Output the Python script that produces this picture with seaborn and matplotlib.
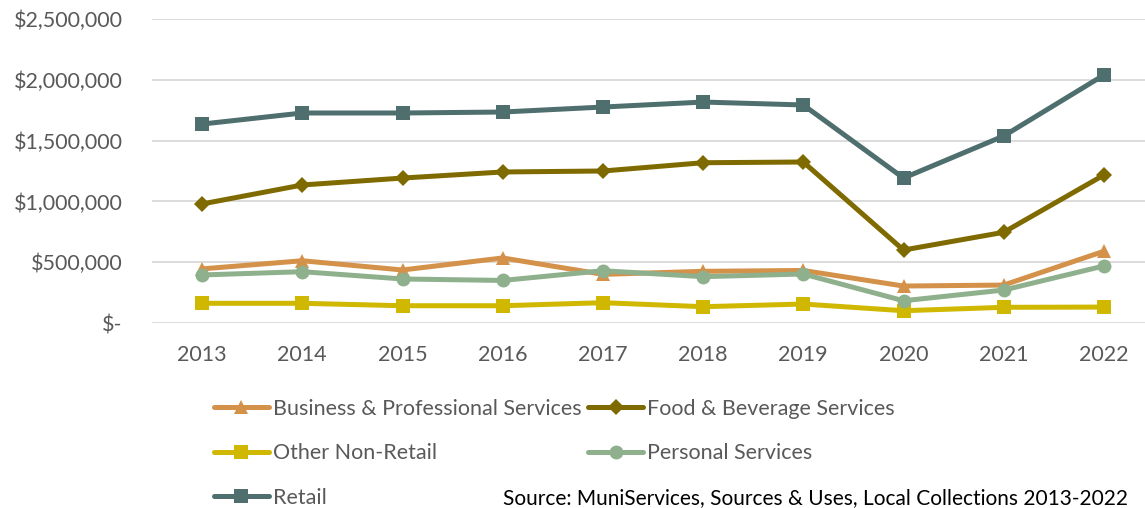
import matplotlib
matplotlib.use("Agg")
import matplotlib.pyplot as plt
import seaborn as sns
import pandas as pd
from matplotlib.ticker import FuncFormatter

years = ["2013", "2014", "2015", "2016", "2017", "2018", "2019", "2020", "2021", "2022"]
business = [445000, 512000, 436000, 535000, 400000, 425000, 432000, 304000, 312000, 590000]
food = [979000, 1135000, 1192000, 1242000, 1250000, 1318000, 1324000, 600000, 746000, 1217000]
other = [162000, 162000, 142000, 142000, 167000, 134000, 156000, 101000, 129000, 131000]
personal = [395000, 422000, 362000, 350000, 430000, 381000, 403000, 183000, 271000, 469000]
retail = [1636000, 1727000, 1727000, 1735000, 1776000, 1817000, 1793000, 1192000, 1538000, 2039000]

series_names = ["Business & Professional Services", "Food & Beverage Services",
                "Other Non-Retail", "Personal Services", "Retail"]
series_values = [business, food, other, personal, retail]
colors = ["#D4914A", "#7F6A00", "#D0B800", "#8FB08C", "#4F6E6E"]
markers = ["^", "D", "s", "o", "s"]
marker_sizes = [10, 8, 9.5, 10, 10]
source_text = "Source: MuniServices, Sources & Uses, Local Collections 2013-2022"

rows = []
for name, vals in zip(series_names, series_values):
    for i, (y, v) in enumerate(zip(years, vals)):
        rows.append({"idx": i, "year": y, "series": name, "value": v})
df = pd.DataFrame(rows)

sns.set_theme(style="white")
plt.rcParams["font.family"] = ["Lato", "DejaVu Sans"]

fig = plt.figure(figsize=(11.45, 5.08), dpi=100)
W, H = 1145, 508
ax = fig.add_axes([152 / W, 1 - 323 / H, (1145 - 152) / W, (323 - 19) / H])

handles = {}
for name, col, mk, ms in zip(series_names, colors, markers, marker_sizes):
    sub = df[df["series"] == name]
    sns.lineplot(data=sub, x="idx", y="value", ax=ax, color=col, linewidth=3.6,
                 marker=mk, markersize=ms, markeredgewidth=0, label=name, legend=False)
    handles[name] = ax.lines[-1]

ax.set_ylim(0, 2500000)
ax.set_xlim(-0.5, -0.5 + (1145 - 152) / 100.2)
ax.set_yticks([0, 500000, 1000000, 1500000, 2000000, 2500000])
ax.yaxis.set_major_formatter(FuncFormatter(lambda v, p: "$-" if v == 0 else f"${v:,.0f}"))
ax.set_xticks(range(len(years)))
ax.set_xticklabels(years)
ax.set_xlabel("")
ax.set_ylabel("")
ax.grid(axis="y", color="#D9D9D9", linewidth=1.3)
ax.grid(axis="x", visible=False)
ax.set_axisbelow(True)
for s in ax.spines.values():
    s.set_visible(False)
ax.tick_params(axis="both", length=0, labelsize=15.5, colors="#595959")
ax.tick_params(axis="x", pad=16)
ax.tick_params(axis="y", pad=21)

order = [series_names[0], series_names[2], series_names[4], series_names[1], series_names[3]]
leg = fig.legend([handles[n] for n in order], order, loc="upper left",
                 bbox_to_anchor=(214 / W, 1 - 399 / H), ncol=2, frameon=False,
                 fontsize=15.5, handlelength=2.55, handletextpad=0.2,
                 columnspacing=0.3, labelspacing=1.13, borderpad=0, borderaxespad=0)
for t in leg.get_texts():
    t.set_color("#595959")

fig.text(503 / W, 1 - 504 / H, source_text, fontsize=15, color="#000000",
         ha="left", va="baseline")

fig.savefig("out.png", dpi=100)
